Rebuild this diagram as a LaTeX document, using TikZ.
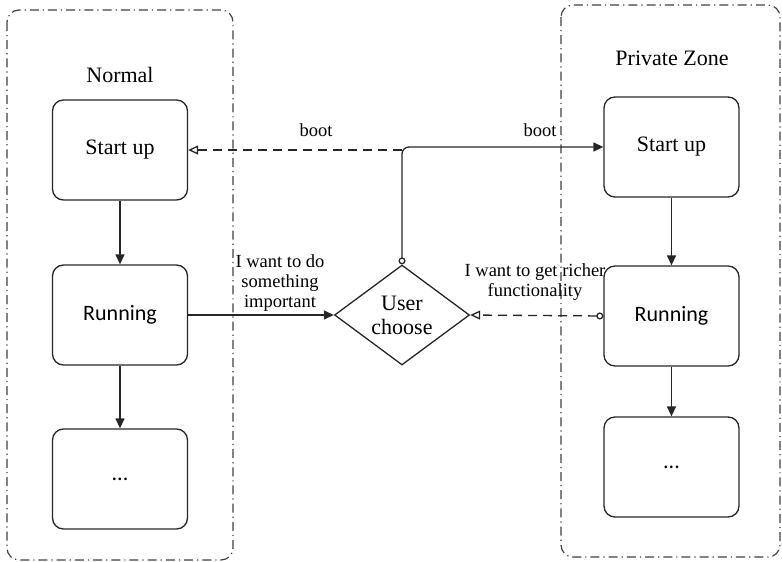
\documentclass[tikz,border=0pt]{standalone}
\usepackage{fontspec}
\setmainfont{Liberation Serif}
\newfontfamily\carl{Carlito}
\usetikzlibrary{arrows.meta,shapes.geometric}
\begin{document}
\begin{tikzpicture}[x=1pt,y=-1pt,
  zone/.style={draw=black!75,line width=1.2pt,rounded corners=12pt,dash pattern=on 9pt off 4pt on 1.2pt off 4pt},
  stbox/.style={draw=black!85,line width=1.3pt,rounded corners=11pt,minimum width=135pt,minimum height=100pt,font=\fontsize{22}{24}\selectfont},
  lbl/.style={font=\fontsize{18.5}{20}\selectfont,align=center,inner sep=0pt},
  conn/.style={draw=black!85,line width=1.3pt},
  fa/.style={-{Triangle[length=10pt,width=9pt]}},
  oa/.style={-{Triangle[open,length=10pt,width=9pt]}},
  dsh/.style={dash pattern=on 9pt off 6pt}]
\useasboundingbox (0,0) rectangle (782,562);
% containers
\draw[zone] (7,10) rectangle (233,560);
\draw[zone] (561,5) rectangle (780,557);
\node[font=\fontsize{22}{24}\selectfont] (tn) at (120,75) {Normal};
\node[font=\fontsize{22}{24}\selectfont] (tp) at (672,58) {Private Zone};
% boxes
\node[stbox] (su1) at (120,150) {Start up};
\node[stbox] (ru1) at (120,315) {\carl Running};
\node[stbox] (dd1) at (120,479) {\carl ...};
\node[stbox] (su2) at (671.5,147) {Start up};
\node[stbox] (ru2) at (671.5,316) {\carl Running};
\node[stbox] (dd2) at (671.5,467) {\carl ...};
\node[diamond,draw=black!85,line width=1.3pt,inner sep=0pt,minimum width=135pt,minimum height=100pt,align=center,font=\fontsize{22}{24}\selectfont] (uc) at (402,315) {User\\choose};
% connectors
\draw[conn,fa] (su1) -- (ru1);
\draw[conn,fa] (ru1) -- (dd1);
\draw[conn,fa] (su2) -- (ru2);
\draw[conn,fa] (ru2) -- (dd2);
\draw[conn,fa] (ru1) -- (uc);
\draw[conn,{Circle[open,length=7pt,width=7pt]}-{Triangle[length=10pt,width=9pt]},rounded corners=7pt] (uc.north) -- (uc.north |- su2.west) -- (su2.west);
\draw[conn,dsh,oa] (uc.north |- su1.east) -- (su1.east);
\draw[conn,dsh,{Circle[open,length=7pt,width=7pt]}-{Triangle[open,length=10pt,width=9pt]}] (ru2.west) -- (uc.east);
% labels
\node[lbl] (b1) at (316,130) {boot};
\node[lbl] (b2) at (540,130) {boot};
\node[lbl] (l1) at (280,283) {I want to do\\something\\important};
\node[lbl] (l2) at (535,282) {I want to get richer\\functionality};
\end{tikzpicture}
\end{document}
